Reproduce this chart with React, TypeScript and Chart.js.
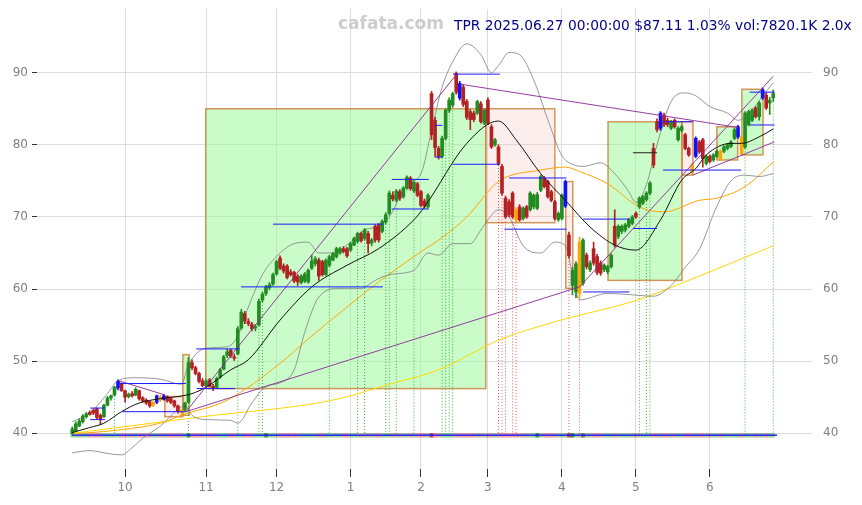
import React, { useEffect, useRef } from 'react';
import { Chart, registerables } from 'chart.js';

Chart.register(...registerables);

// ---- axis ticks ----
const monthTickIndex = [15, 38, 58, 79, 99, 118, 139, 160, 181];
const monthTickLabel = ['10', '11', '12', '1', '2', '3', '4', '5', '6'];
const priceTicks = [40, 50, 60, 70, 80, 90];

// ---- daily candles (trading-day index 0 = 2024-09-10 ... 199 = 2025-06-27) ----
const opens = [
  40.0, 40.3, 41.0, 41.6, 42.3, 42.9, 43.2, 43.4, 42.5, 42.3,
  43.9, 44.9, 45.3, 46.3, 46.9, 45.9, 45.1, 45.5, 45.3, 45.9,
  44.9, 44.6, 44.4, 43.9, 44.3, 45.0, 44.7, 45.1, 44.8, 44.5,
  43.8, 43.2, 43.3, 44.3, 49.8, 49.1, 48.3, 47.3, 46.6, 47.4,
  46.5, 46.4, 47.8, 48.9, 50.8, 51.5, 50.6, 51.0, 54.6, 56.6,
  55.5, 55.1, 54.6, 55.0, 58.5, 59.4, 60.2, 60.7, 62.1, 64.3,
  63.2, 63.2, 62.4, 62.3, 61.8, 60.9, 61.1, 61.0, 62.9, 63.5,
  64.0, 63.8, 62.0, 63.3, 64.0, 64.5, 65.0, 65.6, 65.6, 65.4,
  66.1, 66.6, 67.7, 67.0, 67.7, 66.4, 68.7, 68.9, 68.0, 69.3,
  70.5, 73.0, 72.3, 73.5, 72.8, 74.0, 75.4, 73.6, 74.6, 73.5,
  72.2, 71.4, 87.1, 83.4, 79.5, 78.4, 80.9, 84.8, 85.5, 89.9,
  88.5, 88.0, 86.0, 84.6, 84.4, 84.4, 85.7, 83.0, 86.2, 82.5,
  80.0, 79.7, 77.0, 72.6, 72.1, 73.3, 71.0, 71.4, 69.8, 71.4,
  71.0, 71.4, 71.2, 73.7, 75.4, 74.9, 73.5, 72.1, 69.6, 69.8,
  71.5, 67.5, 60.5, 59.6, 66.5, 60.8, 64.7, 62.7, 65.6, 64.5,
  63.6, 62.7, 62.4, 63.1, 68.7, 67.3, 68.0, 68.2, 68.7, 69.1,
  70.5, 71.4, 71.9, 72.4, 73.3, 79.5, 83.2, 82.3, 84.1, 83.4,
  82.3, 83.4, 80.7, 82.0, 81.4, 79.5, 77.2, 78.4, 80.4, 80.7,
  77.4, 78.4, 77.9, 78.4, 79.1, 79.1, 79.5, 79.8, 80.9, 81.1,
  81.1, 79.7, 82.8, 83.4, 85.1, 83.9, 86.5, 86.9, 85.8, 86.5,
];
const highs = [
  40.9, 41.6, 42.0, 42.6, 42.9, 43.1, 43.4, 43.5, 42.7, 44.0,
  45.1, 45.3, 46.5, 47.4, 47.0, 46.0, 45.6, 45.8, 46.3, 46.0,
  45.1, 44.8, 44.5, 44.4, 45.3, 45.3, 45.4, 45.2, 44.9, 44.6,
  43.9, 43.3, 44.3, 50.5, 50.2, 49.3, 48.5, 47.6, 47.5, 47.6,
  46.8, 47.8, 49.0, 50.8, 51.7, 51.7, 51.0, 54.8, 57.2, 56.9,
  55.9, 55.4, 55.1, 58.6, 59.6, 60.5, 60.9, 62.2, 64.0, 64.6,
  63.5, 63.4, 62.7, 62.5, 62.0, 62.0, 62.3, 62.8, 64.7, 64.5,
  64.3, 64.0, 64.2, 64.7, 65.1, 65.8, 65.8, 65.9, 65.8, 66.5,
  67.2, 67.9, 67.9, 68.4, 68.0, 67.0, 68.9, 69.1, 69.6, 70.6,
  73.6, 73.5, 73.8, 73.8, 74.2, 75.7, 75.6, 75.0, 74.8, 73.7,
  72.5, 73.2, 87.4, 83.8, 79.8, 81.2, 85.0, 86.5, 87.3, 90.1,
  88.8, 88.3, 86.3, 84.9, 84.7, 86.2, 86.0, 85.0, 86.5, 82.8,
  80.9, 80.0, 77.3, 72.9, 72.4, 73.5, 71.3, 71.7, 71.4, 71.6,
  73.5, 73.2, 73.4, 75.8, 75.6, 75.1, 73.7, 72.3, 70.7, 73.2,
  75.1, 67.9, 63.0, 63.8, 67.2, 67.0, 65.0, 63.9, 66.5, 64.8,
  63.9, 63.5, 63.3, 64.9, 71.0, 68.9, 68.9, 69.1, 69.8, 70.2,
  70.7, 72.8, 73.0, 73.5, 74.9, 80.2, 83.6, 84.6, 84.4, 83.7,
  83.4, 83.6, 82.5, 82.7, 81.6, 79.7, 77.4, 81.1, 80.6, 80.9,
  78.6, 78.6, 78.8, 79.3, 79.3, 79.9, 80.2, 80.6, 82.3, 82.7,
  81.4, 84.6, 84.8, 85.0, 85.3, 86.0, 87.9, 87.2, 86.6, 87.6,
];
const lows = [
  39.8, 40.2, 40.9, 41.4, 42.1, 42.5, 42.6, 42.0, 41.2, 42.2,
  43.8, 44.6, 45.2, 46.0, 45.8, 44.3, 44.9, 45.0, 45.2, 44.6,
  44.3, 44.0, 43.6, 43.7, 44.1, 44.4, 44.6, 44.3, 44.1, 43.6,
  42.8, 42.5, 43.1, 44.2, 48.8, 48.1, 47.0, 46.4, 46.3, 46.4,
  45.9, 46.3, 47.6, 48.8, 50.5, 50.5, 50.1, 50.9, 54.4, 55.2,
  54.9, 54.2, 54.2, 54.9, 58.2, 59.1, 59.9, 60.5, 61.9, 62.7,
  62.2, 61.4, 61.8, 60.9, 60.5, 60.7, 60.9, 60.8, 62.7, 63.2,
  61.2, 61.8, 61.9, 63.1, 63.9, 64.3, 64.8, 65.0, 64.4, 65.2,
  66.0, 66.4, 66.5, 66.8, 65.0, 66.0, 66.5, 66.5, 67.8, 69.0,
  70.3, 72.2, 72.1, 72.3, 72.6, 73.8, 73.7, 73.4, 72.8, 71.4,
  71.2, 71.2, 80.7, 78.4, 78.0, 78.2, 80.7, 84.5, 85.2, 87.0,
  86.2, 85.3, 83.5, 82.1, 83.2, 84.2, 83.0, 82.8, 82.8, 79.5,
  79.8, 77.2, 73.0, 69.8, 70.0, 69.8, 69.3, 69.4, 69.6, 69.8,
  70.8, 71.1, 71.0, 73.5, 74.0, 72.6, 72.1, 69.6, 69.4, 69.6,
  71.3, 64.3, 59.2, 58.8, 58.8, 60.5, 62.8, 62.4, 63.3, 62.0,
  61.9, 62.4, 62.1, 62.9, 65.8, 67.0, 67.7, 67.9, 68.5, 68.9,
  69.8, 71.2, 71.7, 72.2, 73.1, 76.8, 81.8, 82.0, 82.5, 82.5,
  82.1, 82.3, 80.5, 81.8, 79.3, 78.4, 76.0, 78.2, 78.8, 76.9,
  77.2, 77.5, 77.7, 78.2, 77.8, 78.9, 79.3, 79.6, 80.7, 80.9,
  78.6, 79.5, 82.6, 83.2, 83.7, 83.4, 86.3, 84.9, 84.2, 86.0,
];
const closes = [
  40.6, 41.3, 41.7, 42.4, 42.7, 42.6, 42.8, 42.2, 42.0, 43.9,
  44.9, 45.2, 46.4, 47.2, 45.9, 45.0, 45.4, 45.2, 46.1, 44.8,
  44.5, 44.2, 43.8, 44.3, 45.2, 44.6, 45.2, 44.5, 44.3, 43.8,
  43.0, 42.9, 44.2, 49.8, 49.1, 48.3, 47.2, 46.6, 47.2, 46.5,
  46.3, 47.6, 48.8, 50.6, 51.3, 50.7, 50.4, 54.5, 56.8, 55.6,
  55.2, 54.5, 54.8, 58.3, 59.3, 60.3, 60.6, 62.0, 63.8, 62.9,
  62.5, 61.6, 62.0, 61.1, 61.0, 61.8, 62.1, 62.6, 63.9, 64.2,
  61.8, 62.0, 64.0, 64.5, 64.9, 65.6, 65.6, 65.2, 64.6, 66.3,
  67.0, 67.7, 66.7, 68.2, 66.3, 66.8, 66.8, 66.8, 69.4, 70.3,
  73.3, 72.5, 73.6, 72.6, 74.0, 75.5, 73.9, 74.8, 73.0, 71.6,
  71.5, 73.0, 81.4, 79.6, 78.3, 80.9, 84.8, 86.2, 87.1, 87.3,
  86.5, 85.6, 83.8, 83.5, 83.5, 86.0, 83.2, 84.8, 83.0, 79.7,
  80.7, 77.4, 73.3, 70.0, 70.3, 70.0, 69.6, 69.6, 71.2, 70.0,
  73.3, 73.0, 73.1, 75.6, 74.2, 72.8, 72.3, 69.8, 70.5, 73.0,
  74.9, 64.6, 62.6, 63.5, 59.4, 66.8, 63.1, 63.6, 63.6, 62.3,
  62.2, 63.3, 63.1, 64.7, 66.1, 68.7, 68.7, 68.9, 69.6, 70.0,
  70.0, 72.6, 72.8, 73.3, 74.7, 77.2, 82.1, 84.4, 82.8, 82.8,
  83.2, 82.5, 82.3, 82.5, 79.5, 78.6, 76.3, 80.9, 79.0, 78.1,
  78.4, 77.7, 78.6, 79.1, 78.0, 79.7, 80.0, 80.4, 82.1, 82.5,
  78.8, 84.4, 84.6, 84.8, 83.9, 85.8, 87.6, 85.1, 86.2, 87.1,
];

const blueCandles = [13, 24, 26, 110, 140, 167, 177, 189, 196];
const orangeCandles = [23, 25, 31, 126, 144, 176, 184, 190];

// signal markers (dotted drop lines)
const greenSignals = [12, 33, 47, 53, 54, 73, 81, 83, 89, 90, 92, 97, 105, 106, 107, 108, 161, 163, 164, 191, 199];
const redSignals = [121, 122, 123, 125, 126, 141, 144];
const strongVolume = [33, 55, 102, 132, 141, 142, 145];

// ---- indicator lines: [index, value] ----
const ma20 = [
  [0, 40.1], [5, 40.8], [9, 41.4], [14, 43.0], [19, 44.2], [25, 44.8], [30, 45.1], [34, 45.5],
  [38, 46.4], [45, 48.8], [50, 50.2], [59, 55.7], [68, 60.3], [78, 63.3], [87, 65.6], [97, 69.6],
  [100, 71.4], [112, 80.2], [121, 83.3], [126, 80.7], [133, 76.0], [140, 72.3], [147, 68.6],
  [154, 66.1], [160, 65.4], [167, 69.6], [173, 75.1], [177, 76.7], [180, 78.6], [187, 80.2],
  [190, 80.2], [195, 81.1], [199, 82.2],
];
const ma50 = [
  [0, 39.9], [14, 40.5], [25, 41.4], [31, 42.5], [44, 44.6], [59, 49.7], [68, 53.5], [78, 57.5],
  [87, 61.0], [97, 64.5], [106, 67.5], [112, 70.0], [121, 74.9], [133, 76.5], [140, 76.9],
  [144, 76.3], [152, 74.6], [161, 71.4], [168, 70.7], [178, 72.3], [183, 72.6], [191, 74.2],
  [199, 77.6],
];
const ma200 = [
  [0, 40.0], [37, 42.3], [74, 44.6], [90, 46.8], [104, 48.8], [121, 52.9], [138, 55.6],
  [160, 58.4], [178, 61.8], [199, 66.0],
];
const bbUpper = [
  [0, 41.6], [5, 42.8], [10, 45.5], [13, 47.3], [18, 47.7], [25, 47.5], [31, 46.8], [33, 49.5],
  [38, 51.8], [44, 52.0], [47, 53.5], [50, 57.5], [54, 62.0], [58, 64.5], [63, 66.3], [67, 66.5],
  [70, 65.0], [74, 65.0], [78, 66.1], [83, 68.2], [87, 68.7], [90, 70.0], [95, 74.5], [99, 76.0],
  [102, 82.0], [105, 88.0], [108, 91.5], [112, 94.0], [116, 92.5], [119, 90.0], [121, 91.0],
  [124, 92.8], [127, 92.5], [131, 89.0], [135, 83.5], [139, 78.5], [142, 77.3], [145, 77.0],
  [150, 77.5], [154, 76.0], [158, 73.5], [160, 72.0], [163, 74.5], [166, 80.0], [170, 86.0],
  [174, 87.2], [177, 86.8], [181, 85.3], [186, 84.4], [189, 83.4], [193, 84.8], [196, 86.8],
  [199, 88.6],
];
const bbLower = [
  [0, 37.3], [5, 37.6], [10, 37.2], [14, 37.0], [17, 38.0], [20, 39.3], [25, 41.0], [30, 43.3],
  [32, 43.8], [34, 42.5], [38, 41.9], [45, 41.8], [47, 41.4], [51, 44.2], [55, 46.5], [59, 47.0],
  [63, 48.8], [66, 54.0], [70, 58.9], [76, 60.1], [82, 60.1], [86, 61.2], [90, 62.0], [97, 62.6],
  [101, 65.0], [104, 64.7], [108, 66.3], [113, 66.3], [116, 68.2], [118, 69.6], [121, 71.0],
  [124, 70.0], [128, 66.0], [133, 65.0], [137, 66.5], [140, 66.0], [142, 62.0], [144, 58.5],
  [152, 59.4], [159, 59.2], [165, 59.0], [170, 60.5], [174, 63.0], [178, 65.5], [183, 71.5],
  [187, 75.0], [191, 75.8], [195, 75.6], [199, 76.0],
];

// ---- range boxes: [startIndex, endIndex, top, bottom] ----
const greenBoxes = [
  [31.4, 33.2, 50.9, 42.5],
  [37.9, 117.4, 85.0, 46.2],
  [152.1, 173.1, 83.2, 61.2],
  [183.0, 188.9, 82.5, 77.9],
  [190.1, 196.1, 87.7, 78.6],
];
const pinkBoxes = [
  [26.3, 31.4, 45.1, 42.3],
  [117.4, 137.0, 85.0, 69.2],
  [140.1, 142.1, 74.9, 60.1],
  [173.1, 176.2, 83.2, 75.8],
];

// ---- horizontal levels: [startIndex, endIndex, value] ----
const levelLines = [
  [5.1, 9.3, 43.5], [5.1, 9.3, 41.9],
  [13.1, 32.3, 46.9], [14.2, 32.3, 43.0],
  [35.3, 46.2, 46.2], [35.2, 47.6, 51.7],
  [47.9, 88.2, 60.3], [57.0, 88.2, 69.0],
  [90.7, 101.2, 75.2], [90.7, 101.2, 71.1],
  [102.9, 105.1, 82.7], [102.9, 105.1, 78.3],
  [108.1, 121.4, 89.8], [108.1, 121.4, 77.3],
  [124.0, 140.3, 75.4], [122.7, 140.3, 68.3],
  [145.0, 158.2, 69.7], [145.0, 158.2, 59.6],
  [159.2, 166.0, 68.4],
  [167.7, 189.9, 76.5], [167.7, 176.2, 83.2],
  [192.3, 199.4, 87.3], [192.3, 199.4, 82.75],
];
const darkLevelLines = [
  [159.2, 166.0, 78.9],
];

// ---- trend lines: [x0, y0, x1, y1] ----
const trendLines = [
  [13.1, 47.3, 25.8, 45.4],
  [32.3, 43.0, 109.3, 89.9],
  [32.3, 43.0, 144.0, 60.3],
  [144.0, 60.3, 199.0, 89.5],
  [110.2, 88.4, 189.0, 82.4],
  [176.2, 75.8, 199.3, 80.4],
];

const volumeBase = 39.45;
const volumeTop = 40.0;
const volumeLineLevel = 39.76;

const GREEN = '#228b22';
const RED = '#b22222';
const BLUE = '#1010ff';
const ORANGE = '#ffa500';

function candleColor(i: number): string {
  if (blueCandles.includes(i)) return BLUE;
  if (orangeCandles.includes(i)) return ORANGE;
  return closes[i] >= opens[i] ? GREEN : RED;
}

const pts = (arr: number[][]) => arr.map(([x, y]) => ({ x, y }));

const boxPlugin = {
  id: 'boxes',
  beforeDatasetsDraw(chart: any) {
    const { ctx, chartArea, scales } = chart;
    const xs = scales.x;
    const ys = scales.y;
    ctx.save();
    ctx.beginPath();
    ctx.rect(chartArea.left, chartArea.top, chartArea.width, chartArea.height);
    ctx.clip();
    const draw = (b: number[], fill: string) => {
      const x0 = xs.getPixelForValue(b[0]);
      const x1 = xs.getPixelForValue(b[1]);
      const y0 = ys.getPixelForValue(b[2]);
      const y1 = ys.getPixelForValue(b[3]);
      ctx.fillStyle = fill;
      ctx.fillRect(x0, y0, x1 - x0, y1 - y0);
      ctx.strokeStyle = 'rgba(205,133,63,0.85)';
      ctx.lineWidth = 1.5;
      ctx.strokeRect(x0, y0, x1 - x0, y1 - y0);
    };
    greenBoxes.forEach((b) => draw(b, 'rgba(150,250,150,0.5)'));
    pinkBoxes.forEach((b) => draw(b, 'rgba(250,200,200,0.3)'));
    ctx.restore();
  },
};

const textPlugin = {
  id: 'texts',
  afterDraw(chart: any) {
    const { ctx } = chart;
    ctx.save();
    ctx.textBaseline = 'middle';
    ctx.font = 'bold 17px "DejaVu Sans"';
    ctx.fillStyle = 'rgba(200,200,200,0.9)';
    ctx.textAlign = 'left';
    ctx.fillText('cafata.com', 338, 25);
    const title = 'TPR 2025.06.27 00:00:00 $87.11 1.03% vol:7820.1K 2.0x';
    ctx.font = '13px "DejaVu Sans"';
    const w = ctx.measureText(title).width;
    const size = 13 * (398 / w);
    ctx.font = `${size.toFixed(2)}px "DejaVu Sans"`;
    ctx.fillStyle = '#00008b';
    ctx.fillText(title, 454, 26);
    ctx.restore();
  },
};

const noPad = (axis: any) => {
  axis.paddingTop = 0;
  axis.paddingBottom = 0;
  axis.paddingLeft = 0;
  axis.paddingRight = 0;
};

export default function App() {
  const canvasRef = useRef<HTMLCanvasElement | null>(null);

  useEffect(() => {
    document.body.style.margin = '0';
    const canvas = canvasRef.current;
    if (!canvas) return;

    const n = closes.length;
    const idx = Array.from({ length: n }, (_, i) => i);
    const colors = idx.map(candleColor);

    const datasets: any[] = [];

    // volume strip
    datasets.push({
      type: 'bar',
      data: idx.map((i) => ({ x: i, y: [volumeBase, volumeTop] })),
      backgroundColor: idx.map((i) => {
        const up = closes[i] >= opens[i];
        const a = strongVolume.includes(i) ? 0.85 : 0.4;
        return up ? `rgba(34,139,34,${a})` : `rgba(200,40,60,${a})`;
      }),
      barThickness: 3,
      grouped: false,
      order: 20,
    });
    datasets.push({
      type: 'line',
      data: [{ x: -0.1, y: volumeLineLevel }, { x: 200.1, y: volumeLineLevel }],
      borderColor: '#0000ff',
      borderWidth: 1.2,
      pointRadius: 0,
      order: 19,
    });

    // dotted signal drop lines
    greenSignals.forEach((i) => {
      datasets.push({
        type: 'line',
        data: [{ x: i, y: lows[i] }, { x: i, y: volumeLineLevel }],
        borderColor: 'rgba(0,150,0,0.75)',
        borderWidth: 1,
        borderDash: [1, 2],
        pointRadius: 0,
        order: 18,
      });
    });
    redSignals.forEach((i) => {
      datasets.push({
        type: 'line',
        data: [{ x: i, y: lows[i] }, { x: i, y: volumeLineLevel }],
        borderColor: 'rgba(220,40,40,0.75)',
        borderWidth: 1,
        borderDash: [1, 2],
        pointRadius: 0,
        order: 18,
      });
    });

    // Bollinger bands
    [bbUpper, bbLower].forEach((arr) => {
      datasets.push({
        type: 'line',
        data: pts(arr),
        borderColor: 'rgba(128,128,128,0.9)',
        borderWidth: 0.9,
        pointRadius: 0,
        cubicInterpolationMode: 'monotone',
        order: 6,
      });
    });
    // moving averages
    datasets.push({
      type: 'line', data: pts(ma200), borderColor: '#ffd700', borderWidth: 1,
      pointRadius: 0, cubicInterpolationMode: 'monotone', order: 6,
    });
    datasets.push({
      type: 'line', data: pts(ma50), borderColor: '#ffa500', borderWidth: 1,
      pointRadius: 0, cubicInterpolationMode: 'monotone', order: 6,
    });
    datasets.push({
      type: 'line', data: pts(ma20), borderColor: '#111111', borderWidth: 1,
      pointRadius: 0, cubicInterpolationMode: 'monotone', order: 3,
    });

    // candles: wicks then bodies
    datasets.push({
      type: 'bar',
      data: idx.map((i) => ({ x: i, y: [lows[i], highs[i]] })),
      backgroundColor: colors,
      barThickness: 1,
      grouped: false,
      order: 5,
    });
    datasets.push({
      type: 'bar',
      data: idx.map((i) => ({ x: i, y: [opens[i], closes[i]] })),
      backgroundColor: colors,
      barThickness: 3,
      minBarLength: 1,
      grouped: false,
      order: 4,
    });

    // level lines
    levelLines.forEach(([a, b, v]) => {
      datasets.push({
        type: 'line',
        data: [{ x: a, y: v }, { x: b, y: v }],
        borderColor: '#1a1aff',
        borderWidth: 1,
        pointRadius: 0,
        order: 2,
      });
    });
    darkLevelLines.forEach(([a, b, v]) => {
      datasets.push({
        type: 'line',
        data: [{ x: a, y: v }, { x: b, y: v }],
        borderColor: '#222222',
        borderWidth: 1,
        pointRadius: 0,
        order: 2,
      });
    });
    // trend lines
    trendLines.forEach(([x0, y0, x1, y1]) => {
      datasets.push({
        type: 'line',
        data: [{ x: x0, y: y0 }, { x: x1, y: y1 }],
        borderColor: 'rgba(140,40,150,0.9)',
        borderWidth: 1,
        pointRadius: 0,
        order: 2,
      });
    });

    const tickFont = { family: '"DejaVu Sans"', size: 12 };

    const chart = new Chart(canvas, {
      type: 'bar',
      data: { datasets },
      plugins: [boxPlugin, textPlugin],
      options: {
        responsive: false,
        animation: false,
        events: [],
        layout: { padding: { top: 9, left: 0, right: 0, bottom: 0 } },
        plugins: { legend: { display: false }, tooltip: { enabled: false } },
        scales: {
          x: {
            type: 'linear',
            min: -10,
            max: 210,
            offset: false,
            afterBuildTicks: (axis: any) => {
              axis.ticks = monthTickIndex.map((v) => ({ value: v }));
            },
            afterFit: (axis: any) => { axis.height = 36; noPad(axis); },
            ticks: {
              color: '#808080',
              font: tickFont,
              padding: 4,
              maxRotation: 0,
              autoSkip: false,
              callback: (v: any) => {
                const k = monthTickIndex.indexOf(Number(v));
                return k >= 0 ? monthTickLabel[k] : '';
              },
            },
            grid: { offset: false, color: '#dcdcdc', tickColor: '#333333', tickLength: 8, lineWidth: 1 },
            border: { display: false },
          },
          y: {
            type: 'linear',
            position: 'left',
            min: 35.05,
            max: 98.83,
            afterBuildTicks: (axis: any) => {
              axis.ticks = priceTicks.map((v) => ({ value: v }));
            },
            afterFit: (axis: any) => { axis.width = 37; noPad(axis); },
            ticks: { color: '#808080', font: tickFont, padding: 4 },
            grid: { color: '#dcdcdc', tickColor: '#333333', tickLength: 5, lineWidth: 1 },
            border: { display: false },
          },
          y2: {
            type: 'linear',
            position: 'right',
            min: 35.05,
            max: 98.83,
            afterBuildTicks: (axis: any) => {
              axis.ticks = priceTicks.map((v) => ({ value: v }));
            },
            afterFit: (axis: any) => { axis.width = 50; noPad(axis); },
            ticks: { color: '#808080', font: tickFont, padding: 11 },
            grid: { display: false, drawTicks: false },
            border: { display: false },
          },
        },
      } as any,
    });

    return () => chart.destroy();
  }, []);

  return (
    <div style={{ position: 'fixed', left: 0, top: 0, width: 862, height: 505, background: '#fff' }}>
      <canvas ref={canvasRef} width={862} height={505} style={{ width: 862, height: 505 }} />
    </div>
  );
}
